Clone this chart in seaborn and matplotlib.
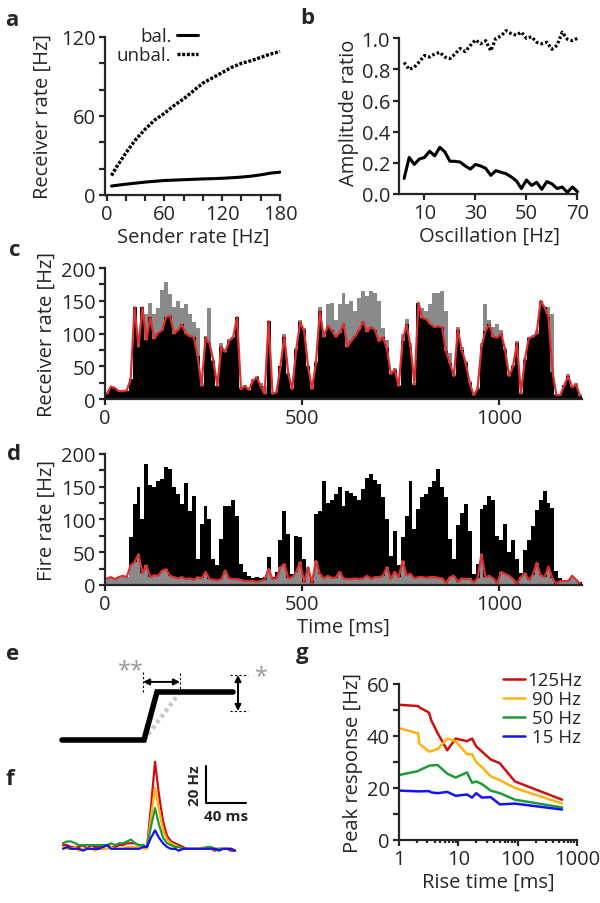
import numpy as np
import pandas as pd
import matplotlib
matplotlib.use('Agg')
import matplotlib.pyplot as plt
import seaborn as sns
from matplotlib.ticker import MultipleLocator, LogLocator, NullFormatter

# ---------------- data ----------------
# a: receiver rate vs sender rate
sender_rate = [5, 10, 20, 30, 40, 50, 60, 70, 80, 90, 100, 110, 120, 130, 140, 150, 160, 170, 180]
bal_rate = [6.8, 7.3, 8.2, 9, 9.8, 10.4, 11, 11.3, 11.6, 11.9, 12.2, 12.4, 12.7, 13.1, 13.6, 14.3, 15.3, 16.6, 17.3]
unbal_rate = [14.7, 21, 32, 42, 50, 57, 62, 68, 73, 79, 85, 89, 93, 97, 100, 102, 104.5, 107, 109]

# b: amplitude ratio vs oscillation frequency
osc_freq = [2, 4, 6, 8, 10, 12, 14, 16, 18, 20, 22, 24, 26, 28, 30, 32, 34, 36, 38, 40,
            42, 44, 46, 48, 50, 52, 54, 56, 58, 60, 62, 64, 66, 68, 70]
bal_ratio = [0.10, 0.235, 0.19, 0.225, 0.235, 0.275, 0.245, 0.30, 0.27, 0.21,
             0.21, 0.205, 0.18, 0.16, 0.19, 0.18, 0.165, 0.12, 0.15, 0.14,
             0.13, 0.11, 0.085, 0.035, 0.09, 0.055, 0.075, 0.03, 0.08, 0.065,
             0.035, 0.045, 0.01, 0.045, 0.015]
unbal_ratio = [0.845, 0.80, 0.815, 0.85, 0.89, 0.88, 0.90, 0.91, 0.88, 0.87,
               0.90, 0.935, 0.915, 0.955, 0.99, 0.965, 0.985, 0.92, 1.0, 1.015,
               1.05, 1.03, 1.02, 1.04, 1.0, 1.01, 0.975, 0.965, 0.975, 0.93,
               0.955, 1.04, 0.995, 0.985, 1.0]

# c, d: rates in 10 ms bins, 0..1210 ms
c_black = [8, 19, 17, 12, 12, 13, 30, 140, 80, 140,
           90, 125, 92, 101, 105, 125, 127, 100, 105, 114,
           100, 96, 95, 65, 20, 94, 85, 58, 20, 80,
           72, 89, 94, 125, 15, 20, 14, 28, 33, 20,
           8, 119, 8, 10, 50, 95, 38, 15, 75, 117,
           105, 50, 15, 55, 134, 95, 112, 105, 95, 101,
           115, 80, 89, 96, 106, 118, 103, 110, 105, 88,
           94, 78, 38, 45, 20, 89, 114, 80, 22, 147,
           124, 122, 115, 110, 111, 110, 73, 55, 35, 106,
           75, 55, 25, 6, 15, 80, 104, 114, 95, 94,
           100, 75, 35, 50, 85, 8, 60, 93, 95, 100,
           150, 140, 125, 42, 6, 6, 21, 35, 18, 22, 5]
c_grey = [10, 8, 5, 12, 10, 10, 25, 135, 85, 140,
          130, 147, 130, 139, 167, 178, 160, 140, 150, 139,
          145, 130, 117, 109, 25, 96, 139, 60, 18, 85,
          75, 92, 90, 120, 18, 22, 12, 30, 35, 25,
          20, 115, 10, 12, 45, 100, 40, 18, 78, 120,
          108, 48, 20, 58, 140, 100, 145, 147, 120, 145,
          162, 145, 150, 135, 155, 165, 157, 165, 162, 150,
          109, 90, 40, 48, 22, 100, 122, 85, 25, 147,
          139, 135, 145, 162, 162, 165, 134, 70, 38, 110,
          80, 58, 28, 8, 18, 85, 145, 120, 110, 114,
          105, 78, 38, 52, 88, 10, 62, 95, 98, 105,
          145, 141, 141, 130, 8, 8, 22, 38, 20, 25, 8]
d_black = [5, 6, 5, 6, 7, 6, 73, 124, 149, 100,
           185, 152, 150, 159, 162, 180, 177, 150, 139, 124,
           155, 113, 136, 40, 93, 120, 100, 40, 30, 70,
           120, 120, 130, 105, 32, 20, 13, 10, 12, 10,
           12, 42, 12, 20, 68, 113, 78, 17, 75, 74,
           40, 9, 8, 108, 113, 159, 125, 130, 139, 150,
           120, 144, 140, 136, 130, 147, 164, 170, 160, 154,
           134, 100, 45, 83, 30, 73, 106, 159, 85, 116,
           134, 139, 149, 159, 177, 150, 134, 70, 40, 91,
           110, 124, 83, 17, 32, 116, 122, 136, 129, 75,
           68, 93, 50, 69, 40, 19, 54, 69, 90, 115,
           130, 143, 125, 117, 21, 10, 8, 7, 6, 5, 4]
d_grey = [10, 12, 9, 12, 14, 12, 30, 35, 47, 18,
          30, 12, 15, 14, 22, 24, 14, 12, 10, 12,
          9, 10, 8, 12, 10, 20, 9, 8, 7, 9,
          22, 10, 9, 9, 8, 6, 6, 6, 5, 6,
          8, 25, 9, 10, 27, 32, 10, 12, 20, 35,
          4, 27, 3, 37, 17, 10, 14, 11, 11, 20,
          10, 9, 9, 10, 9, 10, 14, 9, 12, 12,
          14, 27, 10, 20, 12, 37, 15, 17, 10, 12,
          12, 11, 12, 12, 11, 10, 3, 12, 14, 5,
          10, 9, 10, 4, 10, 47, 12, 14, 10, 3,
          20, 17, 14, 9, 2, 12, 18, 8, 15, 34,
          15, 12, 28, 10, 2, 6, 6, 6, 14, 8, 2]
bin_start = np.arange(0, 1210, 10)
rates = pd.DataFrame({'t': bin_start, 'c_black': c_black, 'c_grey': c_grey,
                      'd_black': d_black, 'd_grey': d_grey})
rates['t_mid'] = rates['t'] + 5

# e: schematic step (time in arbitrary units, level 0 -> 1)
step_t = [0, 82, 95, 171]
step_level = [0, 0, 1, 1]
slow_t = [82, 118]
slow_level = [0, 1]

# f: response traces (ms relative to step onset, Hz)
trace_t = [-84, -80, -76, -72, -68, -64, -60, -56, -52, -48, -44, -40, -36, -32, -28, -24,
           -20, -16, -12, -8, -4, 0, 4, 8, 12, 16, 20, 24, 28, 32, 36, 40, 44, 48, 52,
           56, 60, 64, 68, 72, 76, 80, 84, 88]
trace_125 = [7, 7, 6, 6, 6, 7, 5, 7, 6, 6, 6, 7, 6, 6, 7, 7, 8, 8, 8, 7, 7, 6,
             28, 52, 34, 20, 12, 9, 8, 7, 6, 5, 5, 5, 5, 5, 5, 5, 4, 5, 5, 5, 4, 4]
trace_90 = [6, 5, 5, 6, 4, 5, 5, 5, 4, 5, 5, 5, 6, 5, 5, 5, 6, 6, 6, 6, 5, 5,
            22, 38, 26, 15, 10, 8, 7, 6, 5, 5, 5, 5, 5, 6, 5, 5, 5, 5, 5, 5, 5, 4]
trace_50 = [8, 9, 9, 8, 7, 7, 7, 7, 7, 7, 7, 7, 8, 7, 8, 8, 9, 10, 8, 7, 7, 6,
            17, 27, 18, 11, 8, 7, 6, 6, 5, 5, 5, 5, 5, 5, 6, 6, 5, 5, 5, 5, 5, 4]
trace_15 = [5, 6, 5, 5, 5, 4, 5, 5, 5, 5, 6, 7, 5, 5, 5, 5, 5, 5, 5, 5, 6, 6,
            11, 15, 11, 8, 6, 5, 5, 4, 5, 5, 5, 5, 5, 5, 5, 5, 5, 4, 5, 5, 5, 4]

# g: peak response vs rise time
rise_ms = [1, 2.1, 2.2, 3.2, 3.5, 4.5, 6.5, 9, 14, 17, 20, 25, 35, 50, 90, 560]
peak_125 = [52, 51.5, 51, 49, 46, 41, 34.5, 39, 38, 39, 36, 34, 31, 29.5, 22.5, 15.5]
peak_90 = [43, 41, 37, 34, 34.2, 35, 39, 38, 33, 33, 30, 28, 24.5, 23, 20, 14]
peak_50 = [25, 26.5, 26.8, 28.5, 28.7, 28.8, 25.5, 24, 26, 22, 22.5, 21.5, 19, 18, 15.5, 12.5]
peak_15 = [19, 18.7, 18.7, 18.8, 18.3, 18, 18.5, 17, 17.5, 16.3, 18, 16.3, 16.5, 13.7, 14, 11.7]

RED, ORANGE, GREEN, BLUE = '#cc1010', '#ffb30f', '#1f9a3a', '#1414f0'
C_RED = '#dd3030'
GREY = '#8a8a8a'
FS = 14.5

# ---------------- style ----------------
sns.set_style('ticks')
plt.rcParams['font.family'] = ['Open Sans', 'DejaVu Sans']
plt.rcParams['font.size'] = FS

fig = plt.figure(figsize=(6, 9.04), dpi=100)


def style(ax, ylabelpad=4):
    sns.despine(ax=ax)
    for s in ('left', 'bottom'):
        ax.spines[s].set_linewidth(1.6)
    ax.tick_params(which='both', width=1.6, length=4.5, labelsize=FS, pad=2)
    ax.yaxis.labelpad = ylabelpad
    ax.xaxis.labelpad = 2
    ax.patch.set_alpha(0)


def hist(ax, col, color):
    sns.histplot(data=rates, x='t', weights=col, binwidth=10, binrange=(0, 1210),
                 element='step', fill=True, color=color, alpha=1, linewidth=0, ax=ax)


# a
ax = fig.add_axes([0.175, 0.7832, 0.2933, 0.1748])
sns.lineplot(x=sender_rate, y=bal_rate, color='k', lw=2.2, label='bal.', ax=ax)
sns.lineplot(x=sender_rate, y=unbal_rate, color='k', lw=2.4,
             linestyle=(0, (0.9, 0.5)), label='unbal.', ax=ax)
ax.set_xlim(-1.75, 181)
ax.set_ylim(0, 120)
ax.set_xticks([0, 60, 120, 180])
ax.xaxis.set_minor_locator(MultipleLocator(20))
ax.set_yticks([0, 60, 120])
ax.yaxis.set_minor_locator(MultipleLocator(20))
ax.spines['bottom'].set_bounds(-1.75, 180)
ax.set_xlabel('Sender rate [Hz]')
ax.set_ylabel('Receiver rate [Hz]')
style(ax, 6)
ax.legend(loc='upper right', bbox_to_anchor=(0.58, 1.12), markerfirst=False,
          frameon=False, handlelength=1.1, handletextpad=0.3, labelspacing=0.05,
          fontsize=13.5, borderpad=0)

# b
ax = fig.add_axes([0.665, 0.7843, 0.3017, 0.1825])
sns.lineplot(x=osc_freq, y=bal_ratio, color='k', lw=2.2, ax=ax)
sns.lineplot(x=osc_freq, y=unbal_ratio, color='k', lw=2.3,
             linestyle=(0, (0.8, 0.7)), ax=ax)
ax.set_xlim(0, 71)
ax.set_ylim(0, 1.06)
ax.spines['left'].set_bounds(0, 1)
ax.spines['bottom'].set_bounds(0, 70)
ax.set_xticks([10, 30, 50, 70])
ax.set_yticks([0, 0.2, 0.4, 0.6, 0.8, 1.0])
ax.set_xlabel('Oscillation [Hz]')
ax.set_ylabel('Amplitude ratio')
style(ax, 2)

# c
ax = fig.add_axes([0.175, 0.5575, 0.795, 0.1449])
hist(ax, 'c_grey', GREY)
hist(ax, 'c_black', 'k')
sns.lineplot(data=rates, x='t_mid', y='c_black', color=C_RED, lw=1.6, ax=ax)
ax.set_xlim(0, 1210)
ax.set_ylim(0, 200)
ax.set_xticks([0, 500, 1000])
ax.set_yticks([0, 50, 100, 150, 200])
ax.yaxis.set_minor_locator(MultipleLocator(25))
ax.set_xlabel('')
ax.set_ylabel('Receiver rate [Hz]')
style(ax, 3)

# d
ax = fig.add_axes([0.175, 0.3518, 0.795, 0.1449])
hist(ax, 'd_black', 'k')
hist(ax, 'd_grey', GREY)
sns.lineplot(data=rates, x='t_mid', y='d_grey', color=C_RED, lw=1.6, ax=ax)
ax.set_xlim(0, 1210)
ax.set_ylim(0, 200)
ax.set_xticks([0, 500, 1000])
ax.set_yticks([0, 50, 100, 150, 200])
ax.yaxis.set_minor_locator(MultipleLocator(25))
ax.set_xlabel('Time [ms]')
ax.set_ylabel('Fire rate [Hz]')
style(ax, 3)

# e: schematic
ax = fig.add_axes([0, 0.1593, 0.5, 0.1217])
ax.axis('off')
ax.set_xlim(-62, 238)
ax.set_ylim(-0.396, 1.896)
ax.plot(slow_t, slow_level, color='#c8c8c8', lw=3.2, linestyle=(0, (0.8, 0.8)))
ax.plot(step_t, step_level, color='k', lw=4, solid_capstyle='round', solid_joinstyle='miter')
dot = dict(color='k', lw=0.8, linestyle=(0, (2, 2)))
ax.plot([slow_t[0] - 1, slow_t[0] - 1], [1.0, 1.42], **dot)
ax.plot([slow_t[1], slow_t[1]], [0.98, 1.42], **dot)
ax.annotate('', xy=(slow_t[1], 1.21), xytext=(slow_t[0] - 1, 1.21),
            arrowprops=dict(arrowstyle='<|-|>', color='k', lw=1.4, mutation_scale=9,
                            shrinkA=0, shrinkB=0))
ax.text(69, 1.45, '**', color='#999999', fontsize=17, ha='center', va='center')
ax.plot([168, 186], [1.354, 1.354], **dot)
ax.plot([168, 186], [0.604, 0.604], **dot)
ax.annotate('', xy=(176, 0.604), xytext=(176, 1.354),
            arrowprops=dict(arrowstyle='<|-|>', color='k', lw=1.4, mutation_scale=9,
                            shrinkA=0, shrinkB=0))
ax.text(199, 1.33, '*', color='#999999', fontsize=17, ha='center', va='center')

# f: traces
ax = fig.add_axes([0.0917, 0.0376, 0.325, 0.1272])
ax.axis('off')
for vals, col in [(trace_125, RED), (trace_90, ORANGE), (trace_50, GREEN), (trace_15, BLUE)]:
    sns.lineplot(x=trace_t, y=vals, color=col, lw=1.6, ax=ax)
ax.set_xlim(-92, 103)
ax.set_ylim(-5.9, 56.2)
bar_t0, bar_r0 = 59, 29.7
ax.plot([bar_t0, bar_t0, bar_t0 + 40], [bar_r0 + 20, bar_r0, bar_r0], color='k', lw=1.5)
ax.text(bar_t0 - 4, bar_r0 + 10, '20 Hz', rotation=90, ha='right', va='center',
        fontsize=11, fontweight='bold')
ax.text(bar_t0 + 20, bar_r0 - 3, '40 ms', ha='center', va='top',
        fontsize=11, fontweight='bold')

# g
ax = fig.add_axes([0.665, 0.0697, 0.2967, 0.1726])
for vals, col, lab in [(peak_125, RED, '125Hz'), (peak_90, ORANGE, ' 90 Hz'),
                       (peak_50, GREEN, ' 50 Hz'), (peak_15, BLUE, ' 15 Hz')]:
    sns.lineplot(x=rise_ms, y=vals, color=col, lw=1.8, label=lab, ax=ax)
ax.set_xscale('log')
ax.set_xlim(1, 1000)
ax.set_ylim(0, 60)
ax.set_xticks([1, 10, 100, 1000], labels=['1', '10', '100', '1000'])
ax.xaxis.set_minor_locator(LogLocator(subs=np.arange(2, 10)))
ax.xaxis.set_minor_formatter(NullFormatter())
ax.set_yticks([0, 20, 40, 60])
ax.yaxis.set_minor_locator(MultipleLocator(10))
ax.set_xlabel('Rise time [ms]')
ax.set_ylabel('Peak response [Hz]')
style(ax, 3)
ax.tick_params(axis='x', which='minor', length=2.5)
ax.legend(loc='upper left', bbox_to_anchor=(0.53, 1.14), frameon=False,
          handlelength=1.2, handletextpad=0.1, labelspacing=0.05, fontsize=13.5, borderpad=0)

# panel letters
for letter, x, y in [('a', 12, 20), ('b', 307, 18), ('c', 15, 250), ('d', 14, 455),
                     ('e', 13, 655), ('f', 10, 780), ('g', 302, 653)]:
    fig.text(x / 600, 1 - y / 904, letter, fontsize=16, fontweight='bold',
             ha='center', va='center')

fig.savefig('out.png', dpi=100)
